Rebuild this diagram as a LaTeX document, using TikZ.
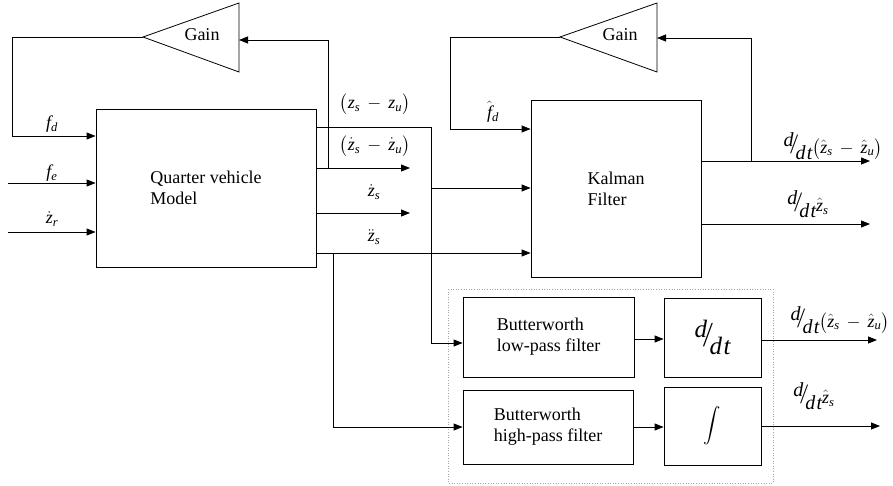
\documentclass[tikz,border=0pt]{standalone}
\usepackage{fix-cm}
\usepackage{amsmath}
\usepackage{graphicx}
\usepackage{fontspec}
\setmainfont{Liberation Serif}
\usetikzlibrary{arrows.meta}
\newcommand\vi[1]{\mathit{#1}}
\newcommand\ddtfrac[1][20]{{\fontsize{#1}{#1}\selectfont\itshape\raisebox{0.35em}{d}\kern-0.12em\scalebox{1}[1.4]{/}\kern-0.06em\raisebox{-0.3em}{d\kern0.06em t}}}
\newcommand\grp[1]{\bigl(#1\bigr)}
\begin{document}
\begin{tikzpicture}[x=1pt,y=-1pt,line width=0.8pt,
  >={Triangle[length=9pt,width=7pt]},
  font=\fontsize{18}{21}\selectfont,
  box/.style={draw,rectangle,inner sep=0pt,align=left},
  lbl/.style={inner sep=0pt},
  arr/.style={->}]
\useasboundingbox (0,0) rectangle (893,486);

% ---------- blocks ----------
\node[box,minimum width=220pt,minimum height=158pt] (qvm) at (206,188) {Quarter vehicle\\Model};
\node[box,minimum width=170pt,minimum height=177pt] (kf) at (616,188.5) {Kalman\\Filter};
\node[box,minimum width=171pt,minimum height=80pt] (lp) at (548.5,337) {Butterworth\\low-pass filter};
\node[box,minimum width=170pt,minimum height=74pt] (hp) at (548,427) {Butterworth\\high-pass filter};
\node[box,minimum width=97pt,minimum height=79pt] (dd) at (712.5,337.5) {\ddtfrac[25]};
\node[box,minimum width=97pt,minimum height=78pt] (int) at (712.5,426) {$\displaystyle\int$};
\draw[gray!70,dotted,line width=0.6pt] (448,289) rectangle (773,483);

% ---------- gain triangles ----------
\draw (143,37) -- (239,3) -- (239,72) -- cycle;
\coordinate (g1tip) at (143,37);
\coordinate (g1in) at (239,40);
\node[lbl] (g1) at (202,35) {Gain};
\draw (560,37) -- (657,3) -- (657,72) -- cycle;
\coordinate (g2tip) at (560,37);
\coordinate (g2in) at (657,38);
\node[lbl] (g2) at (620,35) {Gain};

% ---------- free ends ----------
\coordinate (fein) at (8,183);
\coordinate (zrin) at (8,232);
\coordinate (o1) at (410,168);
\coordinate (o2) at (410,213);
\coordinate (k1) at (870,161);
\coordinate (k2) at (870,224);
\coordinate (b1) at (877,340);
\coordinate (b2) at (880,426);

% ---------- QVM inputs ----------
\draw[arr] (g1tip) -- (12,37) -- (12,136) -- (qvm.west |- 0,136);
\draw[arr] (fein) -- (qvm.west |- fein);
\draw[arr] (zrin) -- (qvm.west |- zrin);
\node[lbl] (lfd) at (52,124) {$\vi{f}_{\vi{d}}$};
\node[lbl] (lfe) at (52,173) {$\vi{f}_{\vi{e}}$};
\node[lbl] (lzr) at (52,219) {$\dot{\vi{z}}_{\vi{r}}$};

% ---------- QVM outputs ----------
\draw (qvm.east |- 0,127) -- (431,127) -- (431,343);
\draw[arr] (431,343) -- (lp.west |- 0,343);
\draw[arr] (431,188) -- (kf.west |- 0,188);
\draw[arr] (qvm.east |- o1) -- (o1);
\draw[arr] (328,168) -- (328,40) -- (g1in);
\draw[arr] (qvm.east |- o2) -- (o2);
\draw[arr] (qvm.east |- 0,253) -- (kf.west |- 0,253);
\draw[arr] (333,253) -- (333,427) -- (hp.west |- 0,427);
\node[lbl] (l1) at (375,104) {$\grp{\vi{z}_{\vi{s}}\,-\,\vi{z}_{\vi{u}}}$};
\node[lbl] (l2) at (375,146) {$\grp{\dot{\vi{z}}_{\vi{s}}\,-\,\dot{\vi{z}}_{\vi{u}}}$};
\node[lbl] (l3) at (374,192) {$\dot{\vi{z}}_{\vi{s}}$};
\node[lbl] (l4) at (374,237) {$\ddot{\vi{z}}_{\vi{s}}$};

% ---------- Kalman ----------
\draw[arr] (g2tip) -- (450,37) -- (450,129) -- (kf.west |- 0,129);
\node[lbl] (lfh) at (493,112) {$\hat{\vi{f}}_{\vi{d}}$};
\draw[arr] (kf.east |- k1) -- (k1);
\draw[arr] (kf.east |- k2) -- (k2);
\draw[arr] (751,161) -- (751,38) -- (g2in);
\node[lbl] (lk1) at (833,146) {\ddtfrac$\grp{\hat{\vi{z}}_{\vi{s}}\,-\,\hat{\vi{z}}_{\vi{u}}}$};
\node[lbl] (lk2) at (808,204) {\ddtfrac$\hat{\vi{z}}_{\vi{s}}$};

% ---------- filter branch ----------
\draw[arr] (lp.east |- 0,339) -- (dd.west |- 0,339);
\draw[arr] (hp.east |- 0,427) -- (int.west |- 0,427);
\draw[arr] (dd.east |- b1) -- (b1);
\draw[arr] (int.east |- b2) -- (b2);
\node[lbl] (lb1) at (840,320) {\ddtfrac$\grp{\hat{\vi{z}}_{\vi{s}}\,-\,\hat{\vi{z}}_{\vi{u}}}$};
\node[lbl] (lb2) at (814,396) {\ddtfrac$\hat{\vi{z}}_{\vi{s}}$};
\end{tikzpicture}
\end{document}
